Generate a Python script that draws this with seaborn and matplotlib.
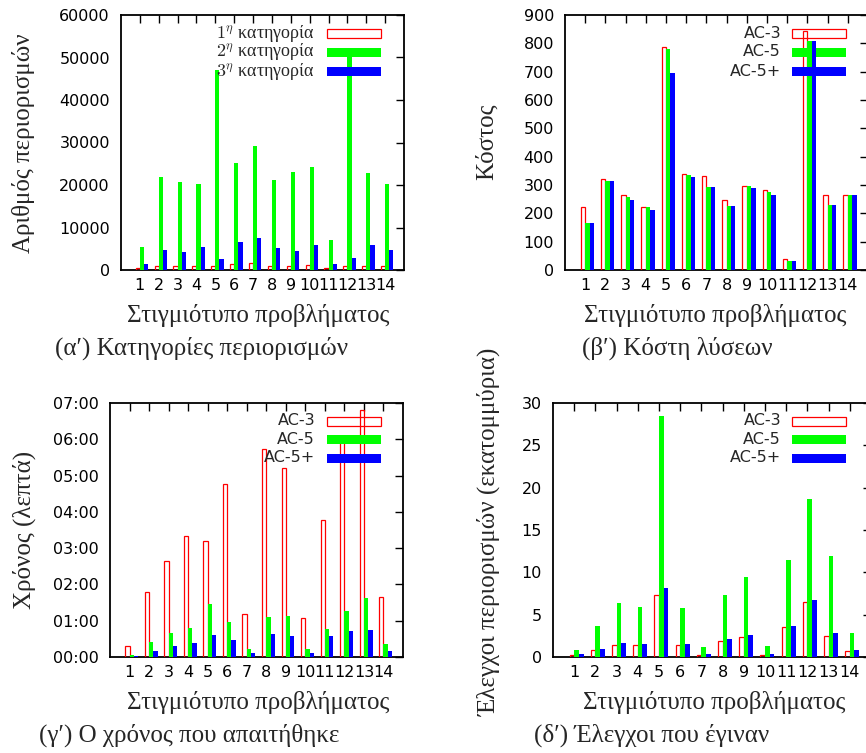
import numpy as np
import matplotlib
matplotlib.use("Agg")
import matplotlib.pyplot as plt
from matplotlib.patches import Rectangle
import seaborn as sns

# ---------------- data ----------------
instances = list(range(1, 15))
instance_labels = [str(i) for i in instances]

# (a) constraint categories (number of constraints)
cat_names = [r"$1^{\eta}$ κατηγορία", r"$2^{\eta}$ κατηγορία", r"$3^{\eta}$ κατηγορία"]
cat1 = [500, 1000, 850, 1000, 850, 1300, 1600, 1000, 1000, 1250, 550, 1000, 1000, 1000]
cat2 = [5300, 22000, 20700, 20300, 47000, 25100, 29100, 21200, 23100, 24200, 7100, 50500, 22800, 20300]
cat3 = [1300, 4700, 4200, 5400, 2600, 6600, 7500, 5200, 4500, 5900, 1300, 2800, 5900, 4600]

algo_names = ["AC-3", "AC-5", "AC-5+"]

# (b) solution costs
cost_ac3 = [221, 322, 263, 221, 786, 340, 332, 247, 296, 284, 38, 843, 263, 266]
cost_ac5 = [166, 314, 257, 221, 780, 334, 293, 225, 296, 276, 32, 810, 230, 266]
cost_ac5p = [166, 314, 247, 211, 696, 329, 293, 225, 290, 264, 32, 810, 230, 264]

# (c) time required (minutes)
time_ac3 = [0.29, 1.79, 2.65, 3.34, 3.19, 4.76, 1.18, 5.74, 5.22, 1.08, 3.77, 5.95, 6.80, 1.66]
time_ac5 = [0.05, 0.41, 0.65, 0.81, 1.45, 0.97, 0.22, 1.10, 1.12, 0.22, 0.76, 1.28, 1.62, 0.35]
time_ac5p = [0.02, 0.16, 0.29, 0.38, 0.60, 0.46, 0.10, 0.63, 0.57, 0.10, 0.57, 0.72, 0.74, 0.16]

# (d) constraint checks (millions)
chk_ac3 = [0.28, 0.80, 1.46, 1.38, 7.30, 1.46, 0.28, 1.86, 2.40, 0.28, 3.60, 6.55, 2.53, 0.71]
chk_ac5 = [0.80, 3.63, 6.36, 5.92, 28.5, 5.76, 1.14, 7.30, 9.43, 1.26, 11.45, 18.63, 11.92, 2.80]
chk_ac5p = [0.32, 0.90, 1.62, 1.50, 8.13, 1.50, 0.32, 2.09, 2.57, 0.32, 3.63, 6.71, 2.84, 0.79]

# ---------------- style ----------------
sns.set_style("white")
SANS = ["DejaVu Sans"]
SERIF = ["Liberation Serif", "DejaVu Serif"]
plt.rcParams["font.family"] = SANS
plt.rcParams["mathtext.fontset"] = "cm"
plt.rcParams["axes.edgecolor"] = "black"
plt.rcParams["axes.linewidth"] = 1.3
plt.rcParams["xtick.color"] = "black"
plt.rcParams["ytick.color"] = "black"

W, H = 866, 753
fig = plt.figure(figsize=(W / 100, H / 100), dpi=100)
fig.patch.set_facecolor("white")


def fx(px):
    return px / W


def fy(py):
    return 1 - py / H


def add_axes(x0, x1, ytop, ybot):
    return fig.add_axes([fx(x0), fy(ybot), (x1 - x0) / W, (ybot - ytop) / H])


RED, GREEN, BLUE = "#ff0000", "#00ff00", "#0000ff"
BAR_W = 0.22
TICK_FS = 11.5
SERIF_FS = 18
KEY_SERIF_FS = 13


def draw_series(ax, values, offset, color, filled, z):
    x = np.array(instances, dtype=float) + offset
    if filled:
        sns.barplot(x=x, y=values, native_scale=True, width=BAR_W, color=color,
                    saturation=1, errorbar=None, orient="x", linewidth=0,
                    zorder=z, ax=ax)
    else:
        sns.barplot(x=x, y=values, native_scale=True, width=BAR_W, color=color,
                    saturation=1, errorbar=None, orient="x", fill=False,
                    linewidth=0.9, zorder=z, ax=ax)


def draw_key(ax, labels, text_right, sw_x0, sw_x1, rows, label_font, label_fs):
    colors = [RED, GREEN, BLUE]
    for i, lab in enumerate(labels):
        z = 2 + 2 * i
        h = 9
        if i == 0:
            rect = Rectangle((fx(sw_x0), fy(rows[i] + h / 2)), (sw_x1 - sw_x0) / W, h / H,
                             transform=fig.transFigure, facecolor="white",
                             edgecolor=RED, linewidth=0.9, zorder=z, clip_on=False)
        else:
            rect = Rectangle((fx(sw_x0), fy(rows[i] + h / 2)), (sw_x1 - sw_x0) / W, h / H,
                             transform=fig.transFigure, facecolor=colors[i],
                             edgecolor="none", zorder=z, clip_on=False)
        ax.add_artist(rect)
        ax.text(fx(text_right), fy(rows[i]), lab, transform=fig.transFigure,
                ha="right", va="center", fontsize=label_fs, family=label_font,
                zorder=20)


def panel(ax, series, yticks, ylabels, ylim, ylabel, ylab_xy, xlab_xy, key_labels,
          key_pos, key_font, key_fs):
    offsets = [-0.5 * BAR_W, 0.5 * BAR_W, 1.5 * BAR_W]
    colors = [RED, GREEN, BLUE]
    for i, vals in enumerate(series):
        draw_series(ax, vals, offsets[i], colors[i], i != 0, 3 + 2 * i)
    ax.set_xlim(0, 15)
    ax.set_ylim(*ylim)
    ax.set_xticks(instances)
    ax.set_xticklabels(instance_labels, family=SANS, fontsize=TICK_FS)
    ax.set_yticks(yticks)
    ax.set_yticklabels(ylabels, family=SANS, fontsize=TICK_FS)
    ax.tick_params(axis="both", direction="in", top=True, right=True,
                   length=6, width=1.0)
    ax.tick_params(axis="y", pad=8)
    ax.tick_params(axis="x", pad=6)
    for s in ax.spines.values():
        s.set_visible(True)
        s.set_color("black")
        s.set_linewidth(1.3)
    ax.set_xlabel("Στιγμιότυπο προβλήματος", family=SERIF, fontsize=SERIF_FS,
                  va="center", ha="center")
    ax.xaxis.set_label_coords(fx(xlab_xy[0]), fy(xlab_xy[1]), transform=fig.transFigure)
    ax.set_ylabel(ylabel, family=SERIF, fontsize=SERIF_FS, va="center", ha="center")
    ax.yaxis.set_label_coords(fx(ylab_xy[0]), fy(ylab_xy[1]), transform=fig.transFigure)
    draw_key(ax, key_labels, *key_pos, key_font, key_fs)


# (a)
ax_a = add_axes(121, 404, 15, 270)
panel(ax_a, [cat1, cat2, cat3], list(range(0, 60001, 10000)),
      [str(v) for v in range(0, 60001, 10000)], (0, 60000),
      "Αριθμός περιορισμών", (24, 143), (258, 315), cat_names,
      (315, 327, 381, [33, 52, 71]), SERIF, KEY_SERIF_FS)

# (b)
ax_b = add_axes(565, 868, 15, 270)
panel(ax_b, [cost_ac3, cost_ac5, cost_ac5p], list(range(0, 901, 100)),
      [str(v) for v in range(0, 901, 100)], (0, 900),
      "Κόστος", (487, 142), (715, 315), algo_names,
      (781, 792, 846, [33, 52, 71]), SANS, TICK_FS)

# (c)
ax_c = add_axes(110, 403, 403, 657)
panel(ax_c, [time_ac3, time_ac5, time_ac5p], list(range(0, 8)),
      ["%02d:00" % v for v in range(0, 8)], (0, 7),
      "Χρόνος (λεπτά)", (24, 530), (258, 702), algo_names,
      (315, 327, 381, [421, 439, 458]), SANS, TICK_FS)

# (d)
ax_d = add_axes(553, 871, 403, 657)
panel(ax_d, [chk_ac3, chk_ac5, chk_ac5p], list(range(0, 31, 5)),
      [str(v) for v in range(0, 31, 5)], (0, 30),
      "Έλεγχοι περιορισμών (εκατομμύρια)", (489, 532), (714, 702), algo_names,
      (781, 792, 846, [421, 439, 458]), SANS, TICK_FS)

# captions
fig.text(fx(202), fy(348), "(α′) Κατηγορίες περιορισμών", ha="center", va="center",
         family=SERIF, fontsize=SERIF_FS)
fig.text(fx(677), fy(348), "(β′) Κόστη λύσεων", ha="center", va="center",
         family=SERIF, fontsize=SERIF_FS)
fig.text(fx(189), fy(735), "(γ′) Ο χρόνος που απαιτήθηκε", ha="center", va="center",
         family=SERIF, fontsize=SERIF_FS)
fig.text(fx(652), fy(735), "(δ′) Έλεγχοι που έγιναν", ha="center", va="center",
         family=SERIF, fontsize=SERIF_FS)

fig.savefig("out.png", dpi=100, facecolor="white")
